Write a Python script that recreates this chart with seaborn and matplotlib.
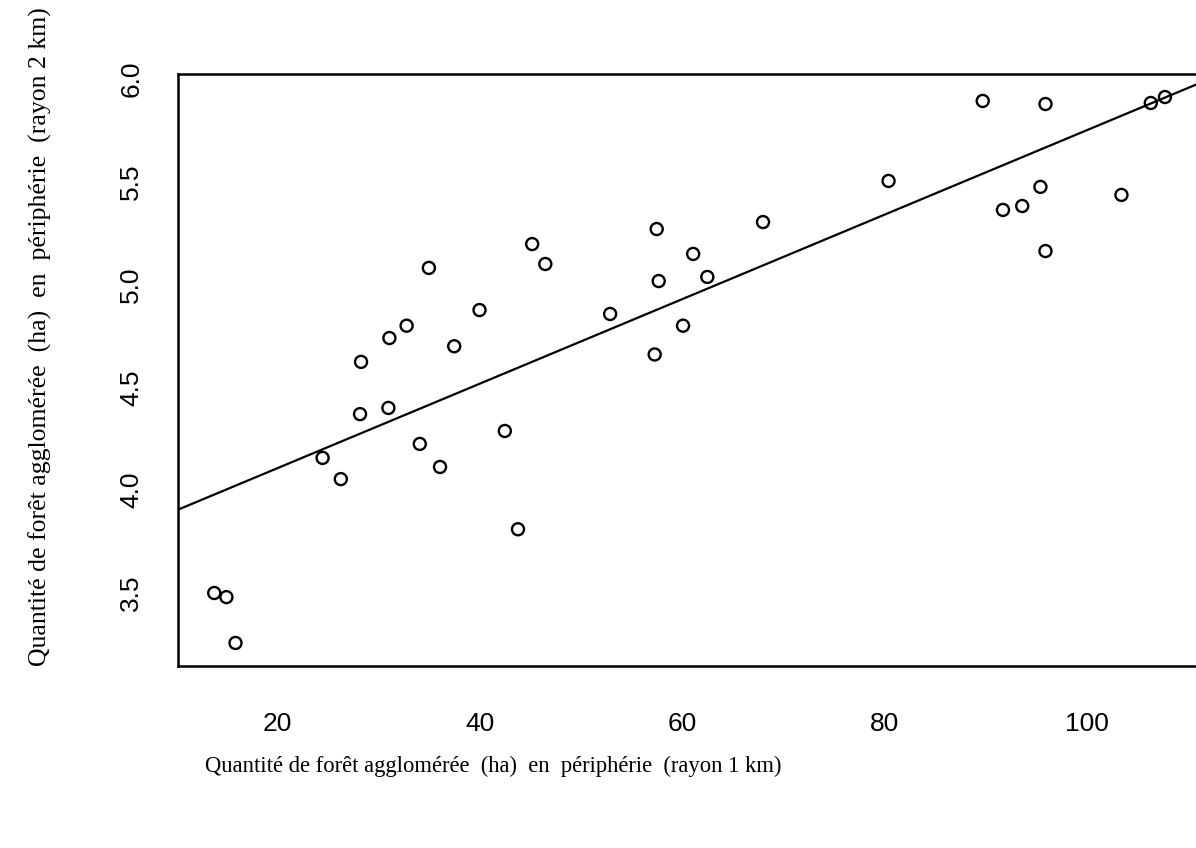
import numpy as np
import pandas as pd
import seaborn as sns
import matplotlib.pyplot as plt

# data
foret_1km = [13.8, 15.0, 15.9, 24.5, 26.3, 28.2, 28.3, 31.0, 31.1, 32.8,
             34.1, 35.0, 36.1, 37.5, 40.0, 42.5, 43.8, 45.2, 46.5, 52.9,
             57.3, 57.5, 57.7, 60.1, 61.1, 62.5, 68.0, 80.4, 89.7, 91.7,
             93.6, 95.4, 95.9, 95.9, 103.4, 106.3, 107.7]
foret_2km = [3.50, 3.48, 3.257, 4.157, 4.054, 4.37, 4.624, 4.40, 4.74, 4.80,
             4.225, 5.081, 4.113, 4.70, 4.876, 4.288, 3.81, 5.197, 5.10, 4.857,
             4.66, 5.27, 5.017, 4.80, 5.149, 5.037, 5.304, 5.504, 5.893, 5.363,
             5.382, 5.475, 5.878, 5.163, 5.436, 5.883, 5.912]

df = pd.DataFrame({'x': foret_1km, 'y': foret_2km})

sns.set_style('white')
plt.rcParams['font.family'] = ['Liberation Sans', 'DejaVu Sans']
plt.rcParams['text.color'] = 'black'

fig = plt.figure(figsize=(11.96, 8.48), dpi=100)
ax = fig.add_axes([178 / 1196, 182 / 848, 1022 / 1196, 592 / 848])

# scatter + least squares line
sns.regplot(data=df, x='x', y='y', ax=ax, ci=None, truncate=False,
            scatter_kws=dict(s=75, facecolors='none', edgecolors='black',
                             linewidths=1.7, alpha=1),
            line_kws=dict(color='black', lw=1.6))

ax.set_xlim(10.22, 111.16)
ax.set_ylim(3.145, 6.024)
ax.set_xticks([20, 40, 60, 80, 100])
ax.set_yticks([3.5, 4.0, 4.5, 5.0, 5.5, 6.0])
ax.set_yticklabels(['3.5', '4.0', '4.5', '5.0', '5.5', '6.0'], rotation=90, va='center')

for s in ax.spines.values():
    s.set_color('black')
    s.set_linewidth(1.8)

ax.tick_params(axis='both', direction='out', length=12, width=1.5, colors='black', labelsize=19)
ax.tick_params(axis='x', pad=21)
ax.tick_params(axis='y', pad=13)

ax.set_xlabel('')
ax.set_ylabel('')
fig.text(493, 848 - 766, 'Quantité de forêt agglomérée  (ha)  en  périphérie  (rayon 1 km)',
         transform=None, ha='center', va='center', fontsize=16.3,
         family='Liberation Serif', color='black')
fig.text(40, 848 - 337, 'Quantité de forêt agglomérée  (ha)  en  périphérie  (rayon 2 km)',
         transform=None, rotation=90, ha='center', va='center', fontsize=18.5,
         family='Liberation Serif', color='black')

fig.savefig('out.png', dpi=100)
